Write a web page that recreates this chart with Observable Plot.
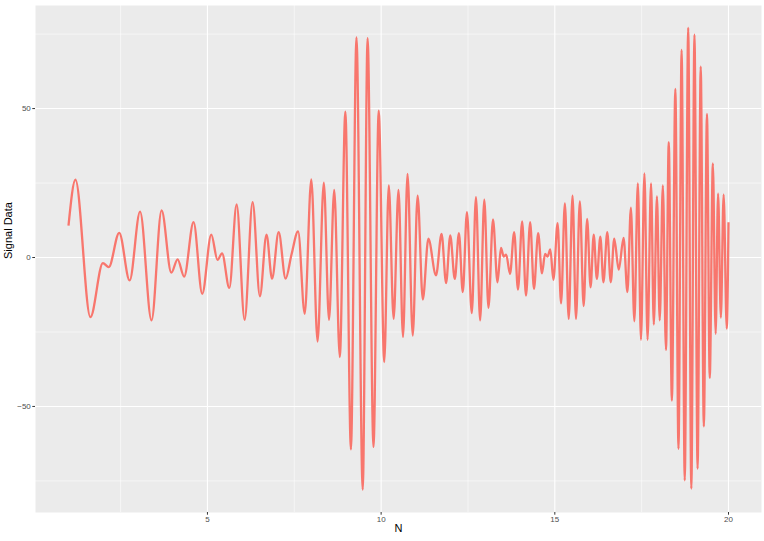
<!DOCTYPE html>
<html>
<head>
<meta charset="utf-8">
<script src="https://cdn.jsdelivr.net/npm/d3@7"></script>
<script src="https://cdn.jsdelivr.net/npm/@observablehq/plot@0.6"></script>
<style>
  html, body { margin: 0; padding: 0; background: #ffffff; }
  #chart { width: 764px; height: 541px; }
</style>
</head>
<body>
<div id="chart"></div>
<script>
// Local extrema (and a few shoulders) of the signal
const nValues = [
  1.00, 1.20, 1.63, 1.99, 2.16, 2.46, 2.76, 3.06, 3.39, 3.68,
  3.96, 4.14, 4.33, 4.60, 4.85, 5.11, 5.29, 5.42, 5.63, 5.84,
  6.07, 6.30, 6.51, 6.70, 6.86, 7.05, 7.25, 7.42, 7.61, 7.80,
  7.99, 8.17, 8.35, 8.50, 8.65, 8.81, 8.97, 9.13, 9.29, 9.47,
  9.61, 9.78, 9.93, 10.09, 10.22, 10.36, 10.50, 10.63, 10.76, 10.91,
  11.05, 11.20, 11.36, 11.58, 11.74, 11.87, 11.99, 12.12, 12.24, 12.35,
  12.47, 12.61, 12.73, 12.85, 12.97, 13.09, 13.22, 13.35, 13.45, 13.53,
  13.60, 13.71, 13.83, 13.94, 14.06, 14.17, 14.29, 14.40, 14.52, 14.63,
  14.72, 14.79, 14.87, 14.96, 15.08, 15.18, 15.29, 15.40, 15.51, 15.61,
  15.72, 15.83, 15.93, 16.03, 16.12, 16.21, 16.31, 16.40, 16.51, 16.61,
  16.71, 16.84, 16.98, 17.09, 17.19, 17.29, 17.39, 17.48, 17.58, 17.67,
  17.77, 17.85, 17.94, 18.02, 18.11, 18.20, 18.28, 18.37, 18.47, 18.56,
  18.65, 18.74, 18.84, 18.93, 19.02, 19.11, 19.20, 19.29, 19.38, 19.46,
  19.55, 19.63, 19.70, 19.78, 19.86, 19.95, 20.00
];
const signalValues = [
  10.7, 26.1, -20.0, -1.9, -3.2, 8.3, -7.7, 15.4, -21.1, 15.8,
  -5.1, -0.6, -6.4, 11.9, -12.2, 7.7, -0.8, 1.4, -10.2, 17.8,
  -20.9, 18.6, -13.0, 7.7, -7.1, 8.5, -7.1, 1.0, 8.8, -18.9,
  26.2, -28.2, 25.1, -20.9, 22.7, -33.4, 49.0, -64.4, 73.9, -77.9,
  73.6, -63.6, 49.3, -35.1, 24.2, -20.6, 22.7, -26.7, 28.1, -26.2,
  20.8, -14.1, 6.3, -6.0, 7.9, -8.6, 7.4, -7.2, 8.2, -11.6,
  15.2, -18.7, 20.3, -21.1, 19.4, -16.9, 12.8, -8.3, 3.2, 0.3,
  1.0, -5.5, 8.5, -10.8, 12.1, -12.8, 11.9, -10.5, 8.2, -5.3,
  1.2, 0.3, 2.7, -7.5, 11.5, -15.4, 18.2, -20.6, 20.8, -20.6,
  18.8, -16.3, 13.0, -10.0, 7.7, -7.2, 7.0, -8.3, 8.5, -8.3,
  6.3, -4.1, 6.6, -11.6, 16.7, -21.4, 24.9, -27.6, 28.2, -27.6,
  24.9, -22.5, 20.5, -21.1, 24.2, -31.0, 38.7, -48.0, 56.6, -64.2,
  69.7, -74.8, 77.1, -77.6, 74.8, -70.9, 64.1, -56.7, 48.2, -40.4,
  31.6, -25.6, 21.4, -20.2, 21.1, -23.9, 11.8
];
const xMajor = [5, 10, 15, 20];
const xMinor = [2.5, 7.5, 12.5, 17.5];
const yMajor = [-50, 0, 50];
const yMinor = [-75, -25, 25, 75];
const xLabel = "N";
const yLabel = "Signal Data";

const data = nValues.map((n, i) => ({ n, v: signalValues[i] }));

const chart = Plot.plot({
  width: 764,
  height: 541,
  marginLeft: 35,
  marginRight: 3,
  marginTop: 5,
  marginBottom: 29,
  style: { fontFamily: "'Liberation Sans', Arial, sans-serif", fontSize: "8px", color: "#4D4D4D", background: "#ffffff" },
  x: { domain: [0.05, 20.95] },
  y: { domain: [-85.6, 84.6] },
  marks: [
    Plot.frame({ fill: "#EBEBEB", stroke: null }),
    Plot.ruleX(xMinor, { stroke: "#ffffff", strokeWidth: 0.55 }),
    Plot.ruleY(yMinor, { stroke: "#ffffff", strokeWidth: 0.55 }),
    Plot.ruleX(xMajor, { stroke: "#ffffff", strokeWidth: 1.1 }),
    Plot.ruleY(yMajor, { stroke: "#ffffff", strokeWidth: 1.1 }),
    Plot.axisX({ ticks: xMajor, tickSize: 2.7, tickPadding: 1.5, label: null, stroke: "#333333" }),
    Plot.axisY({ ticks: yMajor, tickSize: 2.7, tickPadding: 2, label: null, stroke: "#333333" }),
    Plot.line(data, { x: "n", y: "v", stroke: "#F8766D", strokeWidth: 2.3, curve: "monotone-x", strokeLinecap: "butt" }),
    Plot.text([xLabel], { frameAnchor: "bottom", dy: 19, fontSize: 11, fill: "#000000" }),
    Plot.text([yLabel], { frameAnchor: "left", dx: -27, rotate: -90, fontSize: 11, fill: "#000000" })
  ]
});
document.getElementById("chart").appendChild(chart);
</script>
</body>
</html>
